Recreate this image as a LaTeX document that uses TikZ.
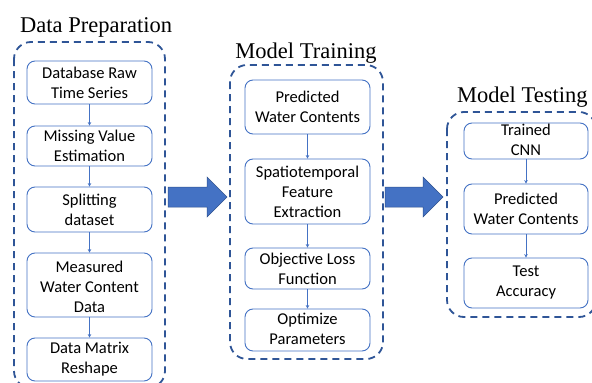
\documentclass[tikz,border=0pt]{standalone}
\usepackage{fontspec}
\setmainfont{Liberation Serif}
\newfontfamily\boxfont{Carlito}
\usetikzlibrary{arrows.meta}
\definecolor{boxblue}{HTML}{4472C4}
\definecolor{dashblue}{HTML}{2F5597}
\definecolor{arrowedge}{HTML}{2F528F}
\tikzset{
  box/.style={draw=boxblue, line width=0.9pt, rounded corners=8pt, inner sep=0pt, fill=white},
  lbl/.style={font=\boxfont\fontsize{16.5}{20}\selectfont, align=center, inner sep=0pt, text=black},
  container/.style={draw=dashblue, line width=1.8pt, dash pattern=on 7pt off 5pt, rounded corners=17pt},
  ttl/.style={font=\fontsize{22.5}{26}\selectfont, inner sep=0pt, anchor=base west},
  conn/.style={draw=boxblue, line width=0.8pt, -{Stealth[length=3.5pt,width=3.5pt]}},
  bigarrow/.style={fill=boxblue, draw=arrowedge, line width=0.5pt}
}
\begin{document}
\begin{tikzpicture}[x=1pt,y=-1pt]
\useasboundingbox (0,0) rectangle (592,383);
\clip (0,0) rectangle (592,383);
\fill[white] (0,0) rectangle (592,383);

% containers
\draw[container] (14,42) rectangle (165,388);
\draw[container] (230,65) rectangle (383,359);
\draw[container] (447,112) rectangle (596,317);

% titles
\node[ttl] (tdp) at (20,32) {Data Preparation};
\node[ttl, anchor=base] (tmt) at (306,58) {Model Training};
\node[ttl] (tts) at (457,102) {Model Testing};

% Data preparation boxes
\node[box, minimum width=125pt, minimum height=43pt] (b1) at (89.5,82.5) {};
\node[lbl] (b1t) at (b1.center) {Database Raw\\Time Series};
\node[box, minimum width=125pt, minimum height=40pt] (b2) at (89.5,146) {};
\node[lbl] (b2t) at (b2.center) {Missing Value\\Estimation};
\node[box, minimum width=125pt, minimum height=45pt] (b3) at (89.5,209.5) {};
\node[lbl] (b3t) at (b3.center) {Splitting\\dataset};
\node[box, minimum width=125pt, minimum height=64pt] (b4) at (89.5,285) {};
\node[lbl] (b4t) at ([yshift=-2pt]b4.center) {Measured\\Water Content\\Data};
\node[box, minimum width=125pt, minimum height=43pt] (b5) at (89.5,359.5) {};
\node[lbl] (b5t) at (b5.center) {Data Matrix\\Reshape};

% Model training boxes
\node[box, minimum width=125pt, minimum height=54pt] (m1) at (307.5,107) {};
\node[lbl] (m1t) at (m1.center) {Predicted\\Water Contents};
\node[box, minimum width=125pt, minimum height=65pt] (m2) at (307.5,191.5) {};
\node[lbl] (m2t) at (m2.center) {Spatiotemporal\\Feature\\Extraction};
\node[box, minimum width=125pt, minimum height=41pt] (m3) at (307.5,268.5) {};
\node[lbl] (m3t) at (m3.center) {Objective Loss\\Function};
\node[box, minimum width=125pt, minimum height=42pt] (m4) at (307.5,330) {};
\node[lbl] (m4t) at ([yshift=1pt]m4.center) {Optimize\\Parameters};

% Model testing boxes
\node[box, minimum width=124pt, minimum height=36pt] (t1) at (526,141) {};
\node[lbl] (t1t) at ([yshift=1pt]t1.center) {Trained\\CNN};
\node[box, minimum width=124pt, minimum height=50pt] (t2) at (526,209) {};
\node[lbl] (t2t) at (t2.center) {Predicted\\Water Contents};
\node[box, minimum width=124pt, minimum height=50pt] (t3) at (526,283) {};
\node[lbl] (t3t) at (t3.center) {Test\\Accuracy};

% connectors
\draw[conn] (b1) -- (b2);
\draw[conn] (b2) -- (b3);
\draw[conn] (b3) -- (b4);
\draw[conn] (b4) -- (b5);
\draw[conn] (m1) -- (m2);
\draw[conn] (m2) -- (m3);
\draw[conn] (m3) -- (m4);
\draw[conn] (t1) -- (t2);
\draw[conn] (t2) -- (t3);

% big arrows
\draw[bigarrow] (168,187) -- (207,187) -- (207,177) -- (227,197) -- (207,217) -- (207,207) -- (168,207) -- cycle;
\draw[bigarrow] (385,187) -- (423,187) -- (423,177) -- (443,197) -- (423,217) -- (423,207) -- (385,207) -- cycle;
\end{tikzpicture}
\end{document}
